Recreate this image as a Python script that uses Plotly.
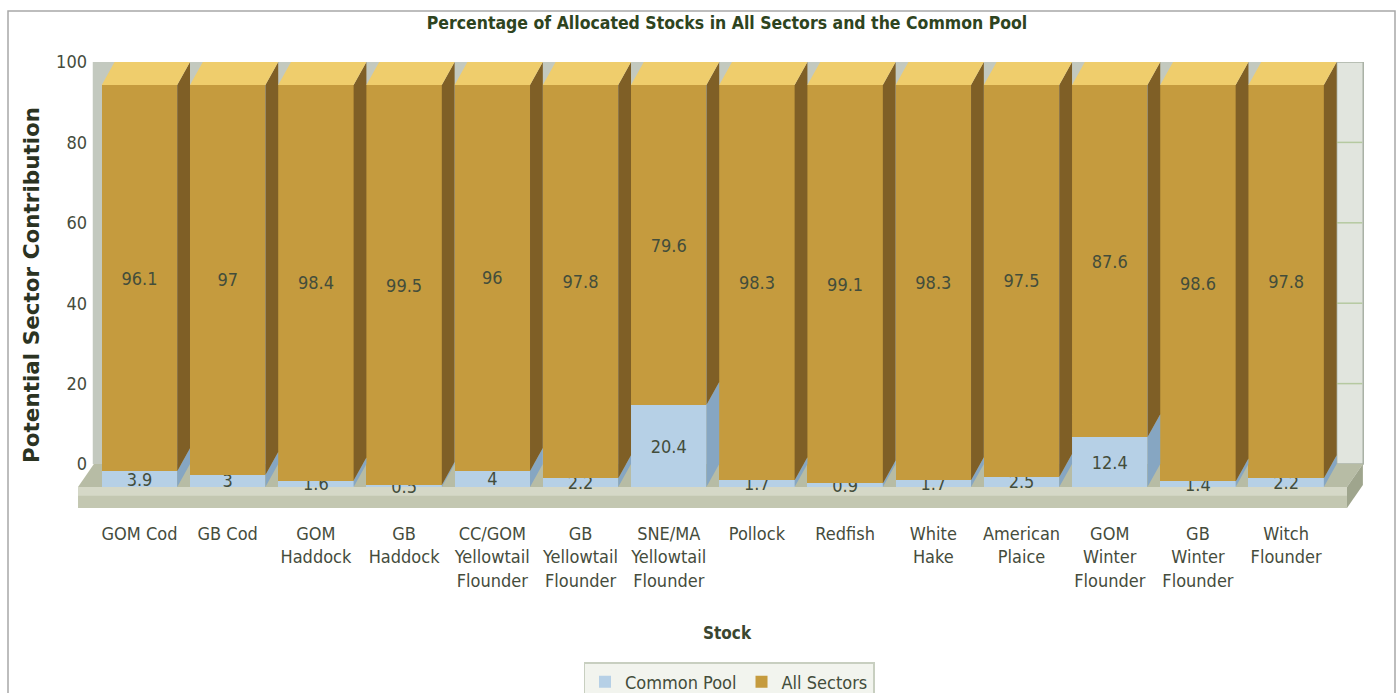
import plotly.graph_objects as go

# ---------------- data ----------------
stocks = ["GOM Cod", "GB Cod", "GOM<br>Haddock", "GB<br>Haddock",
          "CC/GOM<br>Yellowtail<br>Flounder", "GB<br>Yellowtail<br>Flounder",
          "SNE/MA<br>Yellowtail<br>Flounder", "Pollock", "Redfish",
          "White<br>Hake", "American<br>Plaice", "GOM<br>Winter<br>Flounder",
          "GB<br>Winter<br>Flounder", "Witch<br>Flounder"]
common_pool = [3.9, 3, 1.6, 0.5, 4, 2.2, 20.4, 1.7, 0.9, 1.7, 2.5, 12.4, 1.4, 2.2]
all_sectors = [96.1, 97, 98.4, 99.5, 96, 97.8, 79.6, 98.3, 99.1, 98.3, 97.5, 87.6, 98.6, 97.8]
y_ticks = [0, 20, 40, 60, 80, 100]

# ---------------- style ----------------
W = 1398
H = 693
FONT = "DejaVu Sans Condensed, Liberation Sans Narrow, DejaVu Sans, sans-serif"
BOLD = "DejaVu Sans, Verdana, sans-serif"
TXT = "#434d3b"

BW = 0.855      # front face width (category units)
DX = 0.145      # depth, x
DY = 5.72       # depth, y (value units)
h = BW / 2

XR = [-0.7086, 13.894]
YR = [-5.22, 105.72]

xs_pos = list(range(len(stocks)))
totals = [c + a for c, a in zip(common_pool, all_sectors)]

fig = go.Figure()

# front faces (bars)
fig.add_trace(go.Bar(
    x=xs_pos, y=common_pool, width=BW, name="Common Pool",
    marker=dict(color="#b6d0e6", line=dict(width=0)),
    text=common_pool, texttemplate="%{y}", textposition="inside",
    insidetextanchor="middle", textangle=0, constraintext="none",
    insidetextfont=dict(family=FONT, size=18, color=TXT),
    hoverinfo="skip"))
fig.add_trace(go.Bar(
    x=xs_pos, y=all_sectors, width=BW, name="All Sectors",
    marker=dict(color="#c59b3e", line=dict(width=0)),
    text=all_sectors, texttemplate="%{y}", textposition="inside",
    insidetextanchor="middle", textangle=0, constraintext="none",
    insidetextfont=dict(family=FONT, size=18, color=TXT),
    hoverinfo="skip"))


def faces(kind):
    px, py = [], []
    for i, c, t in zip(xs_pos, common_pool, totals):
        if kind == "blue_side":
            a, b = 0, c
            px += [i + h, i + h + DX, i + h + DX, i + h, i + h, None]
            py += [a, a + DY, b + DY, b, a, None]
        elif kind == "gold_side":
            a, b = c, t
            px += [i + h, i + h + DX, i + h + DX, i + h, i + h, None]
            py += [a, a + DY, b + DY, b, a, None]
        else:
            px += [i - h, i - h + DX, i + h + DX, i + h, i - h, None]
            py += [t, t + DY, t + DY, t, t, None]
    return px, py


for kind, col in [("blue_side", "#86a6c2"), ("gold_side", "#7f5f26"), ("top", "#efcd6c")]:
    px, py = faces(kind)
    fig.add_trace(go.Scatter(x=px, y=py, mode="lines", fill="toself",
                             fillcolor=col, line=dict(width=0, color=col),
                             showlegend=False, hoverinfo="skip"))

# ---------------- decorations (walls & floor) ----------------
L, R = -0.697, 13.69
DXF = 0.18
shapes = []
# back wall
shapes.append(dict(type="rect", xref="x", yref="y", x0=-0.53, x1=XR[1] - 0.02,
                   y0=DY, y1=YR[1], fillcolor="#c3c9bf", line=dict(width=0), layer="below"))
# right wall panel
rw0 = len(stocks) - 1 + h + DX
shapes.append(dict(type="rect", xref="x", yref="y", x0=rw0, x1=XR[1] - 0.02,
                   y0=DY, y1=YR[1], fillcolor="#e1e5de",
                   line=dict(width=1.5, color="#aab2a6"), layer="below"))
for v in y_ticks[1:-1]:
    shapes.append(dict(type="line", xref="x", yref="y", x0=rw0, x1=XR[1] - 0.03,
                       y0=v + DY, y1=v + DY, line=dict(color="#b5c9a0", width=1.5),
                       layer="below"))
# floor top
shapes.append(dict(type="path", xref="x", yref="y",
                   path=f"M {L},0 L {L + DXF},{DY} L {R + DXF},{DY} L {R},0 Z",
                   fillcolor="#b7bca5", line=dict(width=0), layer="below"))
# floor front
shapes.append(dict(type="rect", xref="x", yref="y", x0=L, x1=R, y0=YR[0], y1=0,
                   fillcolor="#c3c7b1", line=dict(width=0), layer="below"))
shapes.append(dict(type="rect", xref="x", yref="y", x0=L, x1=R, y0=-2.2, y1=0,
                   fillcolor="#d5d8c7", line=dict(width=0), layer="below"))
# floor right end
shapes.append(dict(type="path", xref="x", yref="y",
                   path=f"M {R},0 L {R + DXF},{DY} L {R + DXF},{DY + YR[0]} L {R},{YR[0]} Z",
                   fillcolor="#9fa58d", line=dict(width=0), layer="below"))
# outer frame
shapes.append(dict(type="rect", xref="paper", yref="paper", x0=8 / W, x1=1395 / W,
                   y0=-0.05, y1=1 - 11 / H, fillcolor="rgba(0,0,0,0)",
                   line=dict(color="#a8a8a8", width=1.5), layer="below"))

fig.update_layout(
    width=W, height=H,
    margin=dict(l=0, r=0, t=0, b=0, autoexpand=False),
    paper_bgcolor="white", plot_bgcolor="rgba(0,0,0,0)",
    barmode="stack",
    uniformtext=dict(minsize=18, mode="show"),
    shapes=shapes,
    title=dict(text="Percentage of Allocated Stocks in All Sectors and the Common Pool",
               x=727 / W, xanchor="center", y=1 - 23 / H, yanchor="middle",
               font=dict(family=FONT, size=17.5, color="#2e4420", weight="bold")),
    xaxis=dict(domain=[77 / W, 1365 / W], range=XR, tickvals=xs_pos, ticktext=stocks,
               showgrid=False, zeroline=False, showline=False, ticks="",
               automargin=False, ticklabelstandoff=13,
               tickfont=dict(family=FONT, size=18, color="#454c3c"), anchor="y"),
    yaxis=dict(domain=[1 - 508 / H, 1 - 62 / H], range=YR, anchor="free",
               position=87 / W, tickvals=[v + DY for v in y_ticks],
               ticktext=[str(v) for v in y_ticks], showgrid=False, zeroline=False,
               showline=False, ticks="", automargin=False,
               tickfont=dict(family=FONT, size=18, color="#454c3c")),
    legend=dict(orientation="h", x=729 / W, xanchor="center", y=1 - 662 / H,
                yanchor="top", bgcolor="#f2f4ee", bordercolor="#c8cfc0", borderwidth=1.5,
                font=dict(family=FONT, size=18, color=TXT), traceorder="normal"),
    annotations=[
        dict(text="Potential Sector Contribution", xref="paper", yref="paper",
             x=32 / W, y=1 - 285 / H, xanchor="center", yanchor="middle",
             textangle=-90, showarrow=False,
             font=dict(family=BOLD, size=21.5, color="#2b3322", weight="bold")),
        dict(text="Stock", xref="paper", yref="paper", x=727 / W, y=1 - 633 / H,
             xanchor="center", yanchor="middle", showarrow=False,
             font=dict(family=FONT, size=17, color="#3a4630", weight="bold")),
    ],
)

fig.write_html("out.html")
